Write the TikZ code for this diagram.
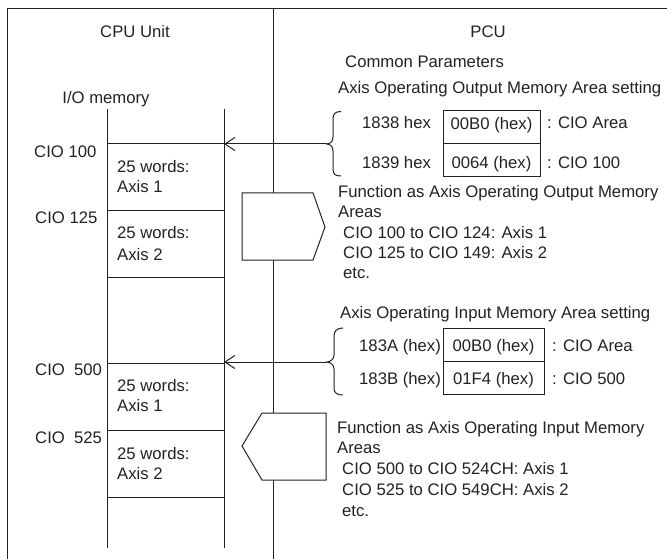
\documentclass[tikz,border=0pt]{standalone}
\usepackage{fontspec}
\setmainfont{Liberation Sans}
\usetikzlibrary{arrows.meta}
\definecolor{ink}{HTML}{222222}
\tikzset{
  txt/.style={inner sep=0pt, text height=12pt, text depth=0pt, font=\fontsize{16.7}{20}\selectfont, text=ink},
  lt/.style={txt, anchor=west},
  ln/.style={draw=ink, line width=1pt},
  cell/.style={ln, txt, minimum width=97pt, minimum height=33pt, text height=12pt},
  arr/.style={ln, -{Straight Barb[length=10pt,width=13pt,line width=1pt]}},
  penta/.style={ln, fill=white, line join=miter}
}
\begin{document}
\begin{tikzpicture}[x=1pt,y=-1pt]
\useasboundingbox (0,0) rectangle (667,559);
% frame
\draw[ln] (7,559) -- (7,8.5) -- (667,8.5);
\draw[ln] (273,8.5) -- (273,559);
% headings
\node[txt] (cpu) at (135,32) {CPU Unit};
\node[txt] (pcu) at (488,32) {PCU};
\node[txt] (iom) at (106,98) {I/O memory};
% memory columns
\draw[ln] (107,109) -- (107,548);
\draw[ln] (224,109) -- (224,548);
\foreach \yy in {144,210,277,363,430,497} \draw[ln] (107,\yy) -- (224,\yy);
% memory labels
\node[lt] (c100) at (34,152) {CIO 100};
\node[lt] (c125) at (35,217) {CIO 125};
\node[lt] (c500) at (35,369) {CIO\ \ 500};
\node[lt] (c525) at (35,437) {CIO\ \ 525};
\node[lt] (w1a) at (117,167) {25 words:};
\node[lt] (w1b) at (117,187) {Axis 1};
\node[lt] (w2a) at (117,232) {25 words:};
\node[lt] (w2b) at (117,254) {Axis 2};
\node[lt] (w3a) at (117,385) {25 words:};
\node[lt] (w3b) at (117,405) {Axis 1};
\node[lt] (w4a) at (117,453) {25 words:};
\node[lt] (w4b) at (117,473) {Axis 2};
% pentagons
\draw[penta] (242,193) -- (313,193) -- (325,227) -- (313,260) -- (242,260) -- cycle;
\draw[penta] (242,446) -- (262,413) -- (326,413) -- (326,480) -- (262,480) -- cycle;
% output setting
\node[lt] (cp) at (345,62) {Common Parameters};
\node[lt] (aoo) at (338,88) {Axis Operating Output Memory Area setting};
\node[lt] (a1838) at (362,123) {1838 hex};
\node[lt] (a1839) at (362,162) {1839 hex};
\node[cell, text depth=7pt] (v1) at (491.5,127) {00B0 (hex)};
\node[cell, text height=17pt] (v2) at (491.5,160) {0064 (hex)};
\node[lt] (d1) at (547,123) {: CIO Area};
\node[lt] (d2) at (547,162) {: CIO 100};
\draw[ln] (341,111.5) .. controls (335,111.5) and (333,114) .. (333,119) -- (333,137)
  .. controls (333,141) and (331,143.5) .. (327,144)
  .. controls (331,144.5) and (333,147) .. (333,151) -- (333,169)
  .. controls (333,174) and (335,176) .. (341,176);
\coordinate (b1) at (327,144);
\coordinate (m1) at (224,144);
\draw[arr] (b1) -- (m1);
\node[lt] (f1) at (338,191) {Function as Axis Operating Output Memory};
\node[lt] (f2) at (338,212) {Areas};
\node[lt] (f3) at (343,232) {CIO 100 to CIO 124: Axis 1};
\node[lt] (f4) at (343,252) {CIO 125 to CIO 149: Axis 2};
\node[lt] (f5) at (343,272) {etc.};
% input setting
\node[lt] (aoi) at (340,312) {Axis Operating Input Memory Area setting};
\node[lt] (a183a) at (359,345) {183A (hex)};
\node[lt] (a183b) at (359,378) {183B (hex)};
\node[cell, minimum width=101pt] (v3) at (493.5,345) {00B0 (hex)};
\node[cell, minimum width=101pt] (v4) at (493.5,378) {01F4 (hex)};
\node[lt] (d3) at (552,345) {: CIO Area};
\node[lt] (d4) at (552,378) {: CIO 500};
\draw[ln] (343,328) .. controls (337,328) and (334,331) .. (334,336) -- (334,355)
  .. controls (334,359) and (331,361.5) .. (327,362)
  .. controls (331,362.5) and (334,365) .. (334,369) -- (334,388)
  .. controls (334,393) and (337,395) .. (343,395);
\coordinate (b2) at (327,362);
\coordinate (m2) at (224,362);
\draw[arr] (b2) -- (m2);
\node[lt] (g1) at (337,427) {Function as Axis Operating Input Memory};
\node[lt] (g2) at (337,447) {Areas};
\node[lt] (g3) at (342,468) {CIO 500 to CIO 524CH: Axis 1};
\node[lt] (g4) at (342,489) {CIO 525 to CIO 549CH: Axis 2};
\node[lt] (g5) at (342,510) {etc.};
\end{tikzpicture}
\end{document}
